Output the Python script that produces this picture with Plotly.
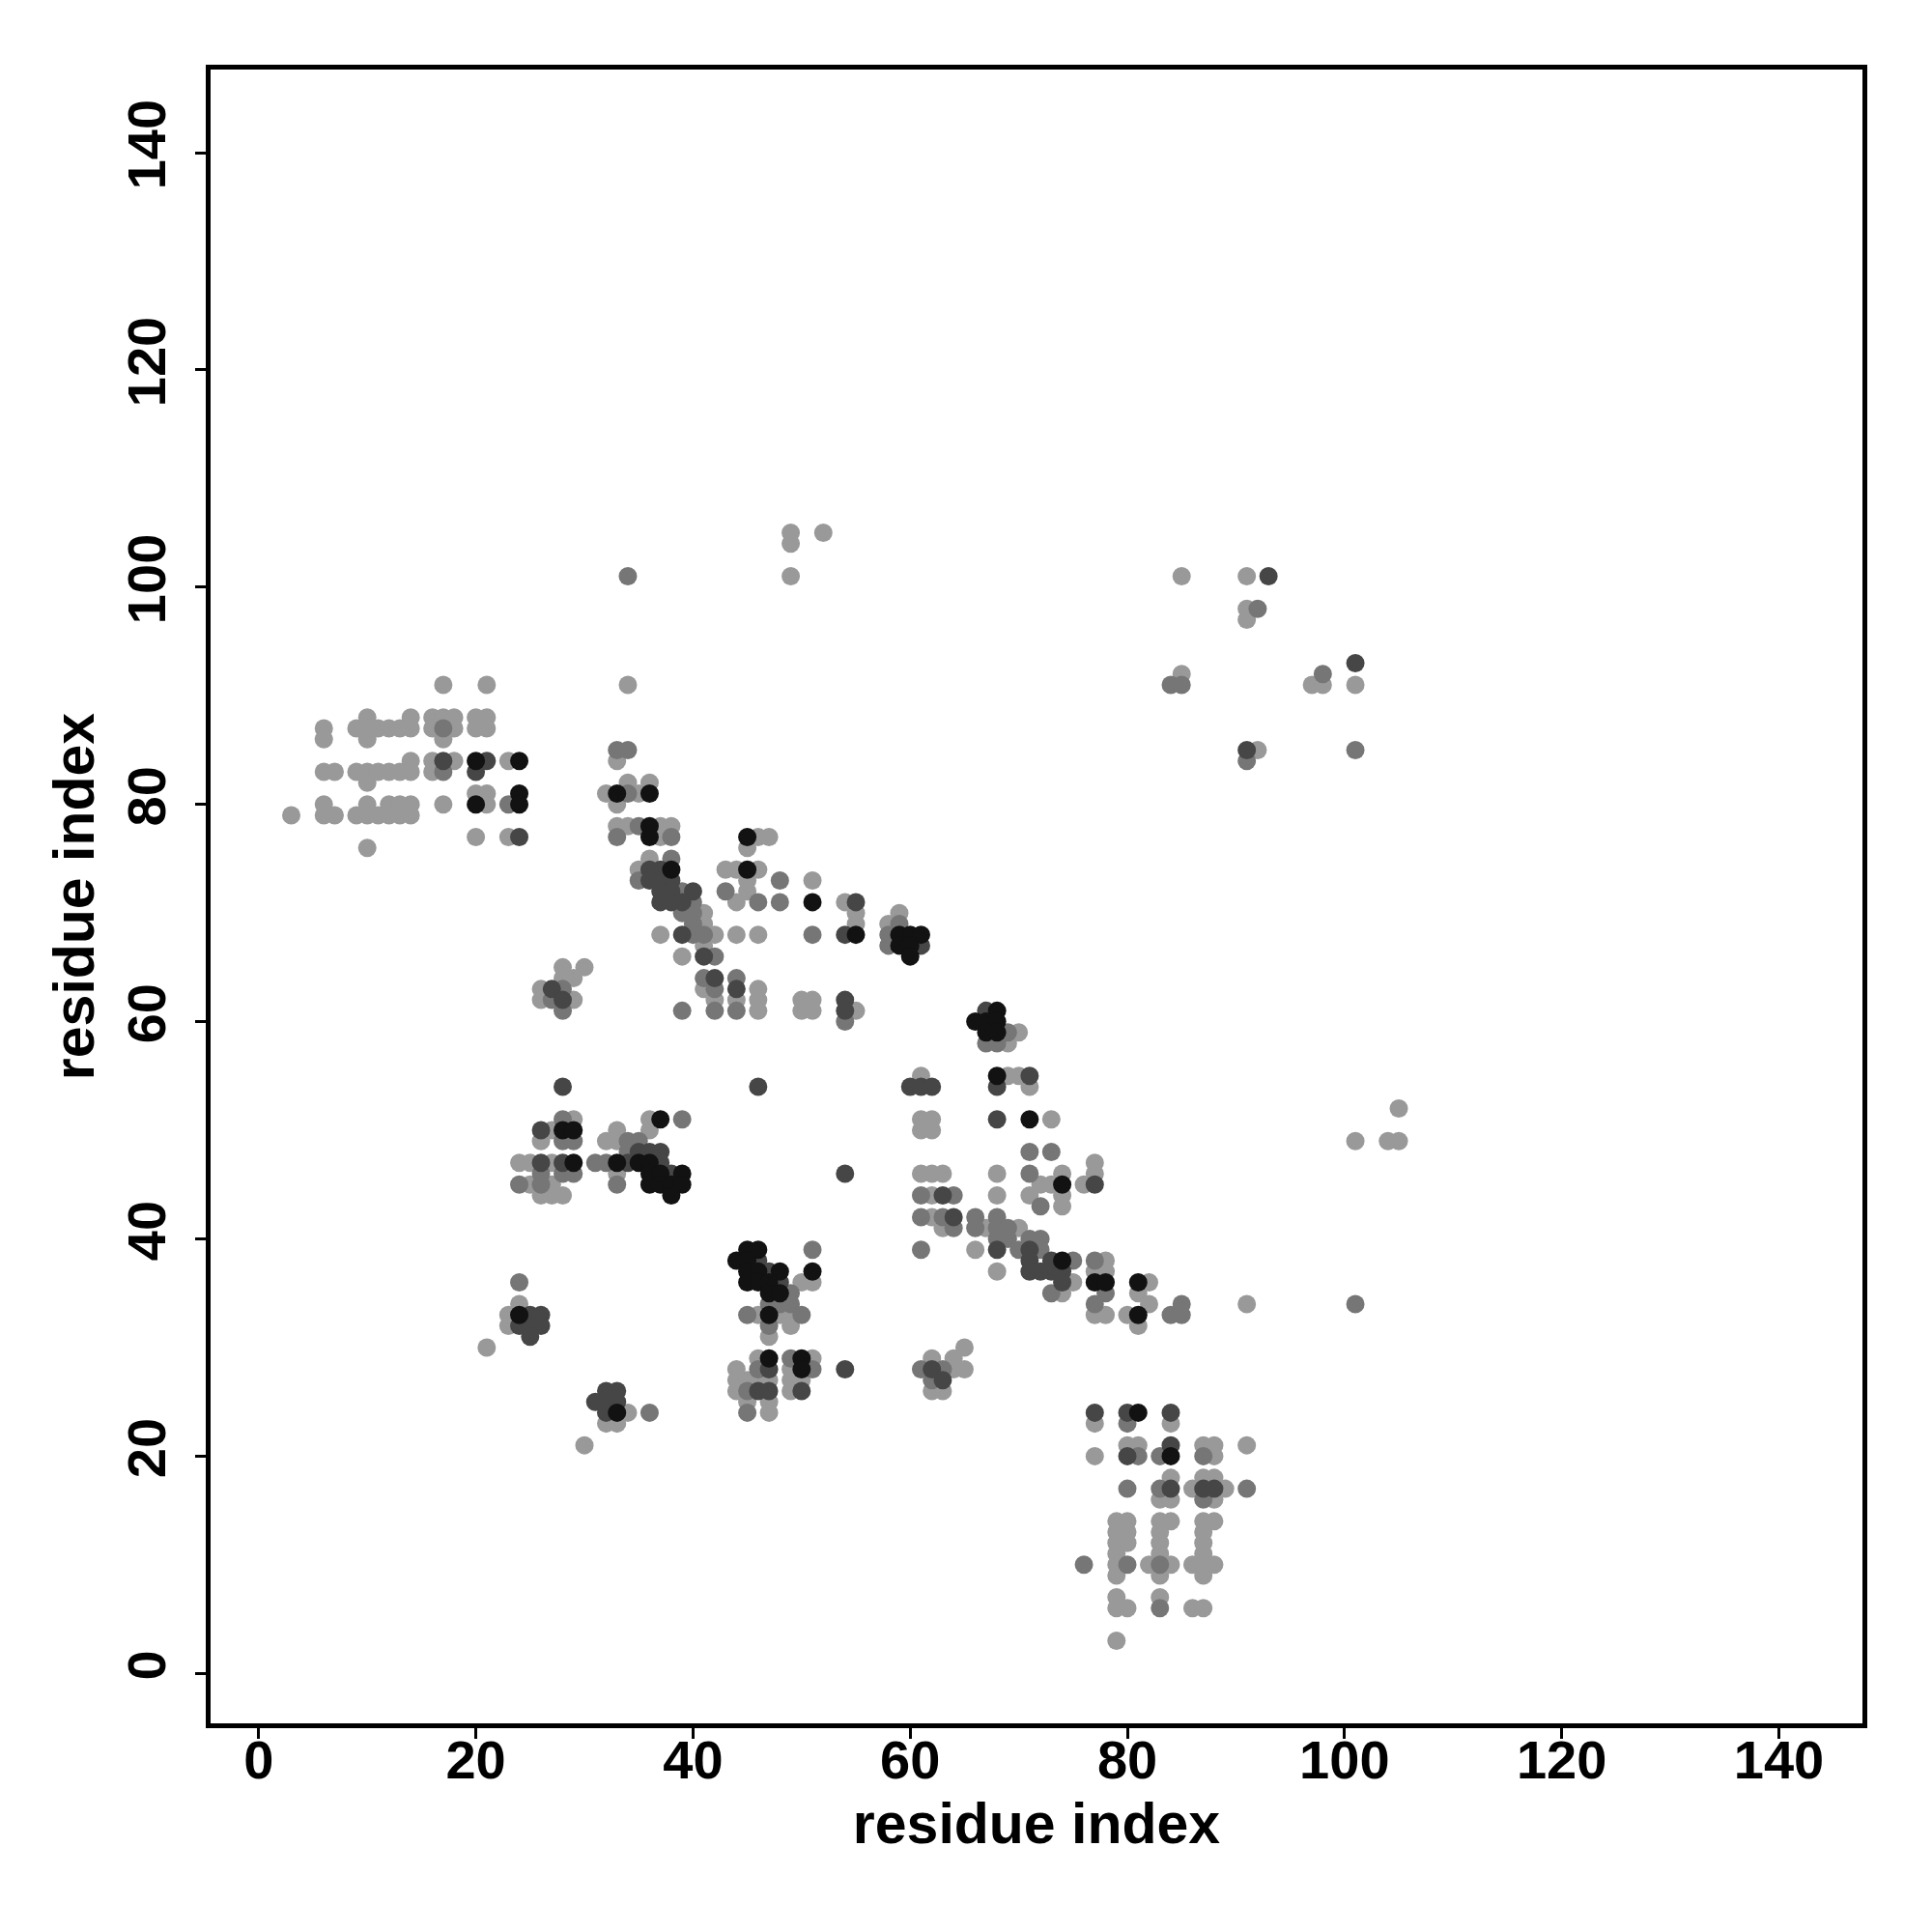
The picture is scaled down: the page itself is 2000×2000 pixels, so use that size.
import plotly.graph_objects as go

# residue contact points: i (x), j (y), shade class (L light, M medium, D dark, K black)
res_i = [
    17, 21,
    10, 14, 16, 17, 18, 20, 21,
    6, 9, 10, 11, 12, 13, 14, 16, 17, 18, 20, 21,
    6, 10, 17,
    14, 16, 17, 18, 20, 21, 23, 24,
    6, 7, 9, 10, 11, 12, 13, 14, 16, 17, 20,
    10,
    20, 21, 24,
    6, 10, 12, 13, 14, 17, 20, 21, 23, 24,
    3, 6, 7, 9, 10, 11, 12, 13, 14,
    20, 23, 24,
    10,
    # isolated top
    49, 49, 52, 34, 49, 34,
    # upper right
    85, 91, 93, 91, 92, 91, 85, 84, 85, 98, 97, 98, 101, 101, 91, 92, 91, 101,
    # right isolated
    105, 101, 104, 105, 91, 101,
    # diagonal upper
    33, 34, 33,
    34, 36,
    32, 33, 34, 35, 36,
    33,
    33, 34, 35, 36, 37, 38,
    33, 36, 37, 38,
    36, 38,
    35, 36, 37, 38,
    35, 36, 37, 38,
    37, 38, 39, 40,
    37, 38, 39, 40,
    39, 40, 41,
    40, 41,
    37, 39, 40, 41, 42,
    41,
    39, 41, 42,
    41, 42, 44,
    41, 42, 44, 46,
    42, 44, 46, 50, 51, 54,
    39, 42, 44, 46, 50, 51, 54, 55,
    54,
    # upper middle
    45, 46, 47, 45,
    43, 44, 45, 46,
    45, 48, 51,
    43, 45,
    44, 46, 48, 51, 54, 55,
    55, 55,
    44, 46, 51, 54, 55,
    # 58-61 / 66-70
    59, 58, 59, 58, 59, 60, 61, 58, 59, 60, 61, 60,
    # diagonal lower
    67, 68, 66, 67, 68, 67, 68, 69, 70, 67, 68, 69,
    61, 68, 69, 70, 71,
    60, 61, 62, 68, 71,
    61, 62, 68, 71, 73,
    61, 62,
    71, 73,
    77,
    61, 62, 63, 68, 71, 74, 77,
    72, 73, 74, 76, 77,
    61, 62, 63, 64, 68, 71, 74,
    72, 74,
    61, 62, 63, 64, 66, 68,
    63, 64, 66, 67, 68, 69, 70,
    68, 69, 71, 72,
    61, 66, 68, 70, 71, 72,
    71, 73, 74, 75, 77, 78,
    68, 71, 72, 73, 74, 77, 78,
    74, 75, 77, 78, 81, 82,
    73, 74, 78, 81,
    77, 82, 77, 78, 80, 81, 81, 84, 85, 85,
    # cluster 44-54 / 24-39
    45, 46, 51,
    44, 45, 46,
    45, 46, 47, 48, 51,
    45, 46, 47, 48, 50, 51,
    47, 48, 49,
    47, 48, 49,
    45, 46, 47, 48, 49, 50,
    47, 49,
    47,
    46, 47, 49, 50, 51,
    44, 46, 47, 49, 50, 51, 54,
    44, 45, 46, 47, 49, 50,
    44, 45, 46, 47, 49, 50,
    45, 47,
    45, 47,
    # 61-65 / 26-30
    65, 62, 64, 61, 62, 63, 64, 65, 62, 63, 62, 63,
    # 21-26 / 30-36
    24, 24, 23, 24, 25, 26, 23, 24, 25, 26, 25, 21,
    # 30-36 / 21-26
    32, 33, 31, 32, 33, 32, 33, 34, 36, 32, 33, 30,
    # 26-30 / 61-65
    28, 30, 28, 29, 26, 27, 28, 26, 27, 28, 29, 28,
    46, 28, 54,
    # 24-29 / 44-51
    28, 29, 26, 27, 28, 29, 26, 28, 29,
    24, 25, 26, 27, 28, 29, 26, 28, 29,
    24, 25, 26, 27, 26, 27, 28,
    # 31-39 / 44-51
    36, 37, 39, 33, 36, 32, 33, 34, 35,
    34, 35, 36, 37,
    31, 32, 33, 34, 35, 36, 37,
    33, 36, 37, 38, 39,
    33, 36, 37, 38, 39, 38,
    # 76-91 / 3-24
    77, 80, 81, 84, 77, 80, 84,
    80, 81, 84, 87, 88, 91,
    77, 80, 81, 83, 84, 87, 88,
    84, 87, 88,
    80, 83, 84, 86, 87, 88, 89, 91,
    83, 84, 87, 88,
    79, 80, 83, 84, 87, 88,
    79, 80, 83, 87,
    79, 80, 83, 87,
    79, 83, 87,
    76, 79, 80, 82, 83, 84, 86, 87, 88,
    79, 83, 87,
    79, 83, 79, 80, 83, 86, 87, 79,
]

res_j = [
    91, 91,
    88, 88, 88, 88, 88, 88, 88,
    87, 87, 87, 87, 87, 87, 87, 87, 87, 87, 87, 87,
    86, 86, 86,
    84, 84, 84, 84, 84, 84, 84, 84,
    83, 83, 83, 83, 83, 83, 83, 83, 83, 83, 83,
    82,
    81, 81, 81,
    80, 80, 80, 80, 80, 80, 80, 80, 80, 80,
    79, 79, 79, 79, 79, 79, 79, 79, 79,
    77, 77, 77,
    76,
    105, 104, 105, 101, 101, 91,
    101, 101, 101, 98, 98, 97, 92, 91, 91, 92, 91, 91, 93, 91, 85, 85, 84, 85,
    52, 49, 49, 49, 34, 34,
    85, 85, 84,
    82, 82,
    81, 81, 81, 81, 81,
    80,
    78, 78, 78, 78, 78, 78,
    77, 77, 77, 77,
    75, 75,
    74, 74, 74, 74,
    73, 73, 73, 73,
    72, 72, 72, 72,
    71, 71, 71, 71,
    70, 70, 70,
    69, 69,
    68, 68, 68, 68, 68,
    67,
    66, 66, 66,
    64, 64, 64,
    63, 63, 63, 63,
    62, 62, 62, 62, 62, 62,
    61, 61, 61, 61, 61, 61, 61, 61,
    60,
    77, 77, 77, 76,
    74, 74, 74, 74,
    73, 73, 73,
    72, 72,
    71, 71, 71, 71, 71, 71,
    70, 69,
    68, 68, 68, 68, 68,
    70, 69, 69, 68, 68, 68, 68, 67, 67, 67, 67, 66,
    61, 61, 60, 60, 60, 59, 59, 59, 59, 58, 58, 58,
    55, 55, 55, 55, 55,
    54, 54, 54, 54, 54,
    51, 51, 51, 51, 51,
    50, 50,
    48, 48,
    47,
    46, 46, 46, 46, 46, 46, 46,
    45, 45, 45, 45, 45,
    44, 44, 44, 44, 44, 44, 44,
    43, 43,
    42, 42, 42, 42, 42, 42,
    41, 41, 41, 41, 41, 41, 41,
    40, 40, 40, 40,
    39, 39, 39, 39, 39, 39,
    38, 38, 38, 38, 38, 38,
    37, 37, 37, 37, 37, 37, 37,
    36, 36, 36, 36, 36, 36,
    35, 35, 35, 35,
    34, 34, 33, 33, 33, 33, 32, 33, 34, 33,
    39, 39, 39,
    38, 38, 38,
    37, 37, 37, 37, 37,
    36, 36, 36, 36, 36, 36,
    35, 35, 35,
    34, 34, 34,
    33, 33, 33, 33, 33, 33,
    32, 32,
    31,
    29, 29, 29, 29, 29,
    28, 28, 28, 28, 28, 28, 28,
    27, 27, 27, 27, 27, 27,
    26, 26, 26, 26, 26, 26,
    25, 25,
    24, 24,
    30, 29, 29, 28, 28, 28, 28, 28, 27, 27, 26, 26,
    36, 34, 33, 33, 33, 33, 32, 32, 32, 32, 31, 30,
    26, 26, 25, 25, 25, 24, 24, 24, 24, 23, 23, 21,
    65, 65, 64, 64, 63, 63, 63, 62, 62, 62, 62, 61,
    54, 54, 46,
    51, 51, 50, 50, 50, 50, 49, 49, 49,
    47, 47, 47, 47, 47, 47, 46, 46, 46,
    45, 45, 45, 45, 44, 44, 44,
    51, 51, 51, 50, 50, 49, 49, 49, 49,
    48, 48, 48, 48,
    47, 47, 47, 47, 47, 47, 47,
    46, 46, 46, 46, 46,
    45, 45, 45, 45, 45, 44,
    24, 24, 24, 24, 23, 23, 23,
    21, 21, 21, 21, 21, 21,
    20, 20, 20, 20, 20, 20, 20,
    18, 18, 18,
    17, 17, 17, 17, 17, 17, 17, 17,
    16, 16, 16, 16,
    14, 14, 14, 14, 14, 14,
    13, 13, 13, 13,
    12, 12, 12, 12,
    11, 11, 11,
    10, 10, 10, 10, 10, 10, 10, 10, 10,
    9, 9, 9,
    7, 7, 6, 6, 6, 6, 6, 3,
]

shade = (
    "LL" "LLLLLLL" "LLLLLLLLMLLL" "LLL" "LLDLKDLK" "LLLLLLLLLMD" "L" "LLK" "LLLLLLKLMK"
    "LLLLLLLLL" "LLD" "L"
    "LLLMLL"
    "LLDLMLLMMMLLDLDLMM"
    "LLLLLM"
    "MML" "LL" "LKMLK" "L" "LLMKLL" "MKLM" "LM" "LDDK" "MDDD" "DDMD" "DDDM" "MML" "ML"
    "LDMML" "L" "LDM" "MDM" "LMDL" "LLLLLD" "MMMLLLDL" "M"
    "KLLL" "LLKL" "LML" "ML" "LMMKLD" "LL" "LLMDK"
    "LLMMKKKMKKDK"
    "DKKKKKKMLMML"
    "LKLLD" "DDDDL" "LLDKL" "LL" "MM" "L" "LLLLMLL" "LLKLD" "MLDMLLL" "ML" "MLMDMM"
    "LMMLMML" "MMMM" "MLDMDM" "DDKMML" "LDDDDLL" "DLKKKL" "MLML"
    "MLLLLKLMMM"
    "KKM" "KKD" "KKDKK" "KKKDLL" "KKM" "MMM" "MLKLLM" "ML" "L" "LKMKL" "LMDLKMD"
    "LLLLLL" "LMDDLD" "LL" "ML"
    "LLLMDMLLMDLL"
    "MLLKDDLDDDDL"
    "DDDDDDKLMLLL"
    "LLLLLDMLMDLM"
    "DDD"
    "MLDLKKLMM" "LLDLDKMMM" "MLML" "LLL"
    "LKMLLLLMM" "MDDD" "MMKDKKD" "LKKDK" "MKKKKK"
    "DDKDLML" "LLDLLL" "LDMMKML" "LLL" "MMDLDDLM" "LLML" "LLLLLL" "LLLL" "LLLL" "LLL"
    "MLMLMLLLL" "LLL" "LLLLMLLL"
)

gray = {"L": "#999999", "M": "#767676", "D": "#464646", "K": "#121212"}

n = min(len(res_i), len(res_j), len(shade))

fig = go.Figure()
for level in ["L", "M", "D", "K"]:
    xs = [res_i[k] for k in range(n) if shade[k] == level]
    ys = [res_j[k] for k in range(n) if shade[k] == level]
    fig.add_trace(go.Scatter(
        x=xs, y=ys, mode="markers",
        marker=dict(size=19, color=gray[level], line=dict(width=0)),
        showlegend=False, hoverinfo="skip",
    ))

tickvals = [0, 20, 40, 60, 80, 100, 120, 140]
font_family = "Liberation Sans, Arial, sans-serif"
axis_common = dict(
    tickvals=tickvals,
    ticks="outside", ticklen=11, tickwidth=3, tickcolor="black",
    showline=True, mirror=True, linewidth=5, linecolor="black",
    showgrid=False, zeroline=False,
    tickfont=dict(family=font_family, size=56, color="black", weight="bold"),
)

title_font = dict(family=font_family, size=59, color="black", weight="bold")

fig.update_layout(
    width=2000, height=2000,
    margin=dict(l=210, r=80, t=64, b=224, autoexpand=False),
    plot_bgcolor="white", paper_bgcolor="white",
    xaxis=dict(range=[-4.43, 147.7], ticklabelstandoff=-26,
               title=dict(text="residue index", standoff=16, font=title_font),
               **axis_common),
    yaxis=dict(range=[-4.6, 147.65], tickangle=-90, ticklabelstandoff=9,
               title=dict(text="residue index", standoff=4, font=title_font),
               **axis_common),
)

fig.write_html("out.html")
